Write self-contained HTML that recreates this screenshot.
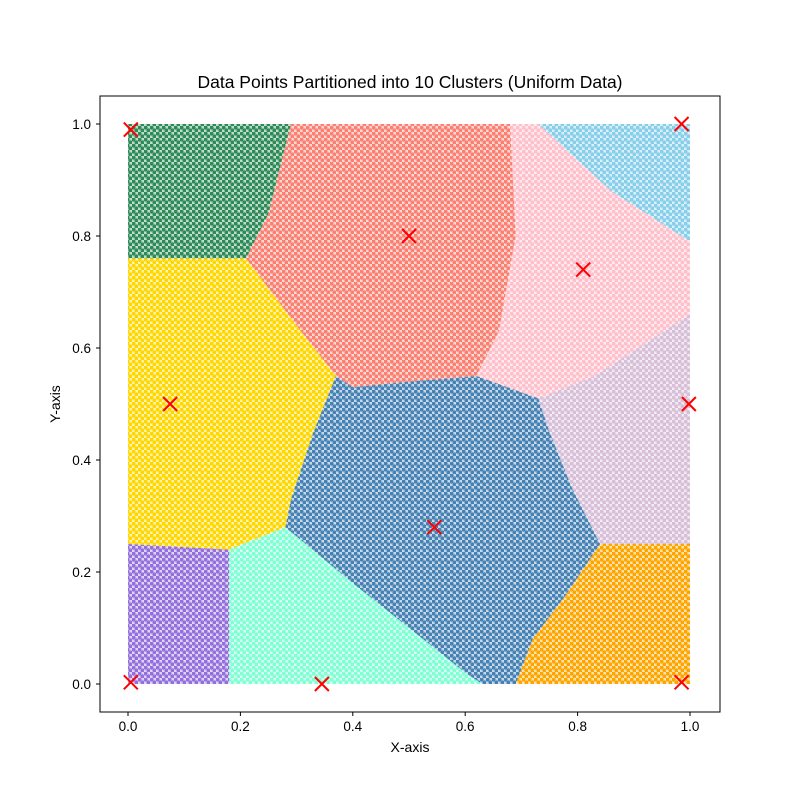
<!DOCTYPE html>
<html><head><meta charset="utf-8"><style>
body{margin:0;background:#fff;font-family:"Liberation Sans",sans-serif}
svg text{font-family:"Liberation Sans",sans-serif}
</style></head><body>
<svg id="chart" width="800" height="800" xmlns="http://www.w3.org/2000/svg">
<defs id="defs"></defs>
<rect x="0" y="0" width="800" height="800" fill="#fff"/>
<g id="regions"></g>
<g id="centroids"></g>
<rect x="100" y="96" width="620" height="616" fill="none" stroke="#000" stroke-width="1"/>
<g id="axes"></g>
<text x="410" y="88" text-anchor="middle" font-size="17.5">Data Points Partitioned into 10 Clusters (Uniform Data)</text>
<text x="410" y="752" text-anchor="middle" font-size="14">X-axis</text>
<text x="60" y="404" text-anchor="middle" font-size="14" transform="rotate(-90 60 404)">Y-axis</text>
</svg>
<script>
const clusterNames=['green','salmon','skyblue','pink','thistle','gold','steelblue','aquamarine','purple','orange'];
const clusterColors=['#2e8b57','#fa8072','#87ceeb','#ffc0cb','#d8bfd8','#ffd700','#4682b4','#7fffd4','#9370db','#ffa500'];
const clusterRegions=[
[[0,0.76],[0.21,0.76],[0.25,0.84],[0.29,1],[0,1]],
[[0.29,1],[0.68,1],[0.69,0.8],[0.66,0.63],[0.62,0.55],[0.5,0.54],[0.4,0.53],[0.37,0.55],[0.3,0.64],[0.21,0.76],[0.25,0.84]],
[[0.73,1],[1,1],[1,0.79],[0.86,0.88]],
[[0.68,1],[0.73,1],[0.86,0.88],[1,0.79],[1,0.66],[0.83,0.55],[0.73,0.51],[0.62,0.55],[0.66,0.63],[0.69,0.8]],
[[1,0.66],[0.83,0.55],[0.73,0.51],[0.75,0.45],[0.79,0.35],[0.84,0.25],[1,0.25]],
[[0,0.76],[0.21,0.76],[0.3,0.64],[0.37,0.55],[0.33,0.45],[0.29,0.33],[0.28,0.28],[0.18,0.24],[0,0.25]],
[[0.37,0.55],[0.4,0.53],[0.5,0.54],[0.62,0.55],[0.73,0.51],[0.75,0.45],[0.79,0.35],[0.84,0.25],[0.78,0.16],[0.72,0.08],[0.69,0.0],[0.63,0.0],[0.6,0.02],[0.5,0.1],[0.4,0.18],[0.28,0.28],[0.29,0.33],[0.33,0.45]],
[[0.18,0.24],[0.28,0.28],[0.4,0.18],[0.5,0.1],[0.6,0.02],[0.63,0],[0.18,0]],
[[0,0],[0.18,0],[0.18,0.24],[0,0.25]],
[[0.69,0],[1,0],[1,0.25],[0.84,0.25],[0.78,0.16],[0.72,0.08]]
];
const centroidX=[0.005,0.985,0.5,0.81,0.075,0.998,0.545,0.005,0.345,0.985];
const centroidY=[0.99,1.0,0.8,0.74,0.5,0.5,0.28,0.003,0.0,0.003];
const xTicks=[0,0.2,0.4,0.6,0.8,1.0];
const yTicks=[0,0.2,0.4,0.6,0.8,1.0];
const xTickLabels=['0.0','0.2','0.4','0.6','0.8','1.0'];
const yTickLabels=['0.0','0.2','0.4','0.6','0.8','1.0'];

const NS='http://www.w3.org/2000/svg';
const sx=v=>128+v*562;
const sy=v=>684-v*560;
function mk(t,a){const e=document.createElementNS(NS,t);for(const k in a)e.setAttribute(k,a[k]);return e;}
const defs=document.getElementById('defs');
const regions=document.getElementById('regions');
clusterNames.forEach((n,i)=>{
  const p=mk('pattern',{id:'pat'+i,width:6,height:6,patternUnits:'userSpaceOnUse'});
  p.appendChild(mk('rect',{x:0,y:0,width:6,height:6,fill:clusterColors[i],'fill-opacity':0.3}));
  p.appendChild(mk('circle',{cx:1.5,cy:1.5,r:2.1,fill:clusterColors[i]}));
  p.appendChild(mk('circle',{cx:4.5,cy:4.5,r:2.1,fill:clusterColors[i]}));
  defs.appendChild(p);
  const pts=clusterRegions[i].map(q=>sx(q[0])+','+sy(q[1])).join(' ');
  const poly=mk('polygon',{points:pts,fill:'url(#pat'+i+')'});
  
  
  regions.appendChild(poly);
});
const cg=document.getElementById('centroids');
centroidX.forEach((x,i)=>{
  const X=sx(x),Y=sy(centroidY[i]);
  const g=mk('g',{stroke:'#ff0000','stroke-width':2});
  
  
  g.appendChild(mk('line',{x1:X-7,y1:Y-7,x2:X+7,y2:Y+7}));
  g.appendChild(mk('line',{x1:X-7,y1:Y+7,x2:X+7,y2:Y-7}));
  cg.appendChild(g);
});
const ax=document.getElementById('axes');
xTicks.forEach((v,i)=>{
  const X=sx(v);
  ax.appendChild(mk('line',{x1:X,y1:712,x2:X,y2:716,stroke:'#000'}));
  const t=mk('text',{x:X,y:731,'text-anchor':'middle','font-size':13.5});
  t.textContent=xTickLabels[i];
  
  
  ax.appendChild(t);
});
yTicks.forEach((v,i)=>{
  const Y=sy(v);
  ax.appendChild(mk('line',{x1:96,y1:Y,x2:100,y2:Y,stroke:'#000'}));
  const t=mk('text',{x:91,y:Y+5,'text-anchor':'end','font-size':13.5});
  t.textContent=yTickLabels[i];
  
  
  ax.appendChild(t);
});
</script>
</body></html>
